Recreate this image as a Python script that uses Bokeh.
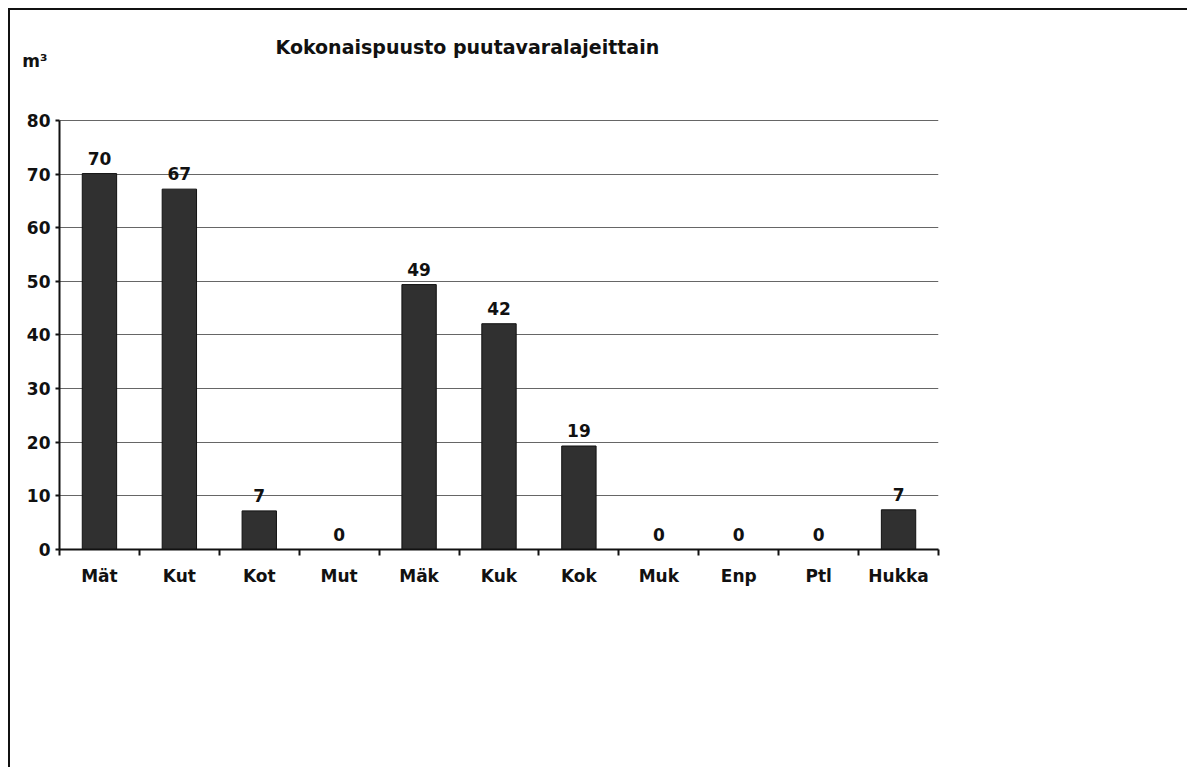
from bokeh.plotting import figure
from bokeh.models import ColumnDataSource, Range1d, FixedTicker, LabelSet, Label, LinearAxis
from bokeh.core.properties import value
from bokeh.embed import file_html
from bokeh.resources import INLINE

categories = ["Mät", "Kut", "Kot", "Mut", "Mäk", "Kuk", "Kok", "Muk", "Enp", "Ptl", "Hukka"]
volumes = [70.1, 67.2, 7.2, 0, 49.4, 42.1, 19.3, 0, 0, 0, 7.4]
y_ticks = [0, 10, 20, 30, 40, 50, 60, 70, 80]
title_text = "Kokonaispuusto puutavaralajeittain"
unit_text = "m³"

FONT = "DejaVu Sans"
INK = "#111111"

n = len(categories)
centers = [i + 0.5 for i in range(n)]
bounds = [float(i) for i in range(n + 1)]
labels = [f"{v:.0f}" for v in volumes]
y_max = y_ticks[-1]

src = ColumnDataSource(dict(x=centers, top=volumes, lab=labels))

# frame extends above the value axis so the heading area lives inside it
p = figure(
    frame_width=879, frame_height=519,
    min_border_left=49, min_border_top=20, min_border_right=249, min_border_bottom=218,
    x_range=Range1d(0, n), y_range=Range1d(0, 96.78),
    output_backend="svg", toolbar_location=None,
)
p.styles = {"border-top": "2px solid #111", "border-left": "2px solid #111",
            "margin-left": "8px", "margin-top": "8px"}
p.outline_line_color = None
p.background_fill_color = "white"

p.vbar(x="x", top="top", width=0.43, source=src, fill_color="#303030", line_color=INK, line_width=1)

p.add_layout(LabelSet(x="x", y="top", text="lab", source=src, text_align="center",
                      text_baseline="bottom", y_offset=9, text_font=value(FONT),
                      text_font_style="bold", text_font_size="17px", text_color=INK))

# x axis: labels at category centres, ticks at category boundaries
xa = p.xaxis[0]
xa.ticker = FixedTicker(ticks=centers, minor_ticks=bounds)
xa.major_label_overrides = {c: name for c, name in zip(centers, categories)}
xa.major_tick_line_color = None
xa.minor_tick_in = 0
xa.minor_tick_out = 6
xa.minor_tick_line_color = INK
xa.minor_tick_line_width = 2
xa.axis_line_color = INK
xa.axis_line_width = 2
xa.major_label_standoff = 10
xa.major_label_text_font = FONT
xa.major_label_text_font_style = "bold"
xa.major_label_text_font_size = "17px"
xa.major_label_text_color = INK

# y axis limited to 0..80
ya = p.yaxis[0]
ya.bounds = (0, y_max)
ya.ticker = FixedTicker(ticks=y_ticks)
ya.minor_tick_line_color = None
ya.major_tick_in = 0
ya.major_tick_out = 4
ya.major_tick_line_color = INK
ya.major_tick_line_width = 2
ya.axis_line_color = INK
ya.axis_line_width = 2
ya.major_label_standoff = 5
ya.major_label_text_font = FONT
ya.major_label_text_font_style = "bold"
ya.major_label_text_font_size = "17px"
ya.major_label_text_color = INK

# unit label as a lone tick label on a bare second axis
unit_axis = LinearAxis(ticker=FixedTicker(ticks=[91.0]), major_label_overrides={91.0: unit_text},
                       axis_line_color=None, major_tick_line_color=None, minor_tick_line_color=None,
                       major_tick_in=0, major_tick_out=0, major_label_standoff=-24,
                       major_label_text_font=FONT, major_label_text_font_style="bold",
                       major_label_text_font_size="17px", major_label_text_color=INK)
p.add_layout(unit_axis, "left")

p.xgrid.grid_line_color = None
p.ygrid.ticker = FixedTicker(ticks=y_ticks)
p.ygrid.grid_line_color = "#666666"
p.ygrid.grid_line_width = 1

p.add_layout(Label(x=2.703, y=93.61, text=title_text, text_align="left", text_baseline="middle",
                   text_font=FONT, text_font_style="bold", text_font_size="19px", text_color=INK))

open("out.html", "w").write(file_html(p, INLINE))
